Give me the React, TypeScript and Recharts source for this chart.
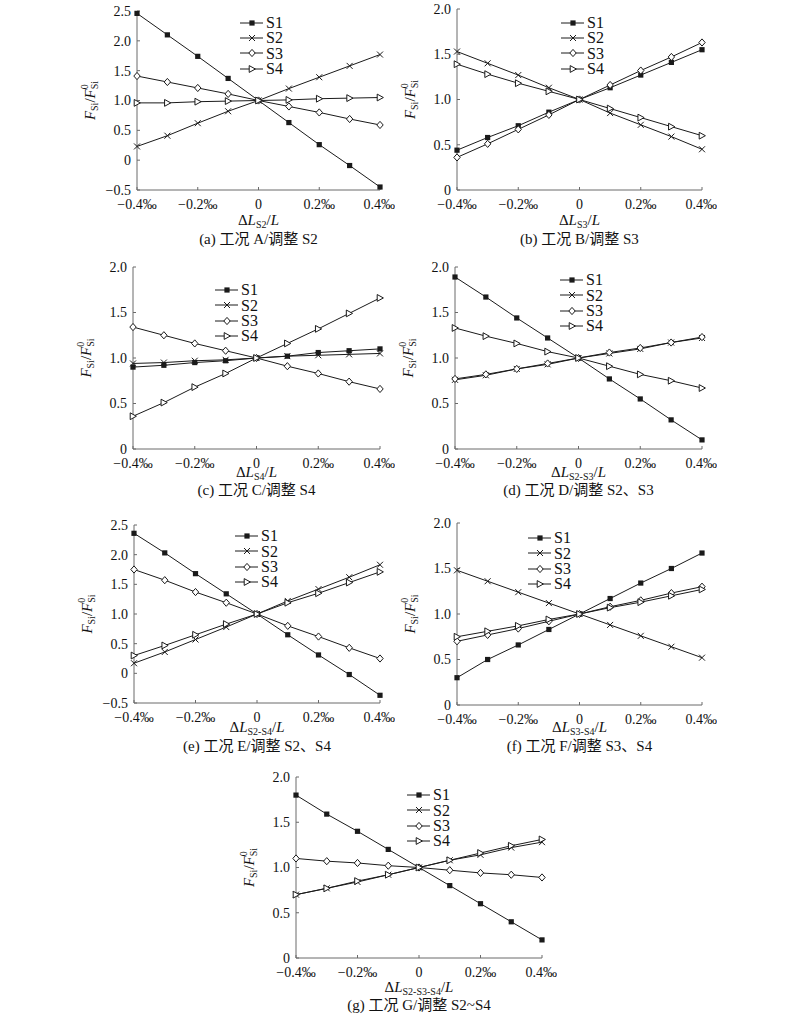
import React from "react";
import { LineChart, Line, XAxis, YAxis, Legend } from "recharts";

// x positions (‰ strain adjustment)
const X = [-0.4, -0.3, -0.2, -0.1, 0, 0.1, 0.2, 0.3, 0.4];
const X_TICKS = [-0.4, -0.2, 0, 0.2, 0.4];
const Y_TICKS_WIDE = [-0.5, 0, 0.5, 1, 1.5, 2, 2.5];
const Y_TICKS = [0, 0.5, 1, 1.5, 2];
const SERIES = ["S1", "S2", "S3", "S4"];

// (a) case A / adjust S2
const A_S1 = [2.46, 2.1, 1.74, 1.37, 1.0, 0.63, 0.26, -0.09, -0.45];
const A_S2 = [0.23, 0.41, 0.62, 0.82, 1.0, 1.2, 1.39, 1.58, 1.77];
const A_S3 = [1.41, 1.31, 1.21, 1.11, 1.0, 0.9, 0.8, 0.69, 0.59];
const A_S4 = [0.96, 0.96, 0.98, 0.99, 1.0, 1.01, 1.03, 1.04, 1.05];

// (b) case B / adjust S3
const B_S1 = [0.44, 0.58, 0.71, 0.86, 1.0, 1.13, 1.27, 1.41, 1.55];
const B_S2 = [1.53, 1.4, 1.27, 1.13, 1.0, 0.85, 0.72, 0.59, 0.45];
const B_S3 = [0.36, 0.51, 0.67, 0.83, 1.0, 1.16, 1.32, 1.47, 1.63];
const B_S4 = [1.39, 1.28, 1.18, 1.09, 1.0, 0.9, 0.8, 0.7, 0.6];

// (c) case C / adjust S4
const C_S1 = [0.9, 0.92, 0.95, 0.97, 1.0, 1.02, 1.06, 1.08, 1.1];
const C_S2 = [0.94, 0.95, 0.97, 0.98, 1.0, 1.02, 1.03, 1.04, 1.05];
const C_S3 = [1.34, 1.25, 1.16, 1.08, 1.0, 0.91, 0.83, 0.74, 0.66];
const C_S4 = [0.36, 0.51, 0.68, 0.83, 1.0, 1.16, 1.32, 1.49, 1.66];

// (d) case D / adjust S2, S3
const D_S1 = [1.89, 1.67, 1.44, 1.22, 1.0, 0.77, 0.55, 0.32, 0.1];
const D_S2 = [0.76, 0.81, 0.88, 0.93, 1.0, 1.05, 1.1, 1.17, 1.22];
const D_S3 = [0.77, 0.82, 0.88, 0.94, 1.0, 1.06, 1.11, 1.17, 1.23];
const D_S4 = [1.33, 1.24, 1.16, 1.07, 1.0, 0.91, 0.82, 0.75, 0.67];

// (e) case E / adjust S2, S4
const E_S1 = [2.36, 2.03, 1.68, 1.34, 1.0, 0.65, 0.31, -0.02, -0.37];
const E_S2 = [0.17, 0.36, 0.57, 0.78, 1.0, 1.22, 1.42, 1.62, 1.83];
const E_S3 = [1.75, 1.57, 1.37, 1.19, 1.0, 0.8, 0.62, 0.43, 0.25];
const E_S4 = [0.3, 0.47, 0.65, 0.83, 1.0, 1.19, 1.35, 1.53, 1.71];

// (f) case F / adjust S3, S4
const F_S1 = [0.3, 0.5, 0.66, 0.83, 1.0, 1.17, 1.34, 1.5, 1.67];
const F_S2 = [1.48, 1.36, 1.24, 1.12, 1.0, 0.88, 0.76, 0.64, 0.52];
const F_S3 = [0.7, 0.77, 0.84, 0.92, 1.0, 1.08, 1.15, 1.23, 1.3];
const F_S4 = [0.75, 0.81, 0.87, 0.94, 1.0, 1.07, 1.13, 1.2, 1.27];

// (g) case G / adjust S2~S4
const G_S1 = [1.8, 1.59, 1.4, 1.2, 1.0, 0.8, 0.6, 0.4, 0.2];
const G_S2 = [0.7, 0.77, 0.84, 0.92, 1.0, 1.08, 1.14, 1.22, 1.28];
const G_S3 = [1.1, 1.07, 1.05, 1.02, 1.0, 0.97, 0.94, 0.92, 0.89];
const G_S4 = [0.7, 0.77, 0.85, 0.92, 1.0, 1.08, 1.16, 1.24, 1.31];

const FONT = '"Liberation Serif", "Times New Roman", "Noto Sans CJK SC", serif';
const INK = "#1a1a1a";
const AXIS = "#6a6a6a";

function build(s1: number[], s2: number[], s3: number[], s4: number[]) {
  return X.map((x, i) => ({ x, S1: s1[i], S2: s2[i], S3: s3[i], S4: s4[i] }));
}

function Marker({ kind, cx, cy }: { kind: string; cx: number; cy: number }) {
  if (cx == null || cy == null) return null;
  if (kind === "S1")
    return <rect x={cx - 2.6} y={cy - 2.6} width={5.2} height={5.2} fill={INK} />;
  if (kind === "S2")
    return (
      <g stroke={INK} strokeWidth={1}>
        <line x1={cx - 3} y1={cy - 3} x2={cx + 3} y2={cy + 3} />
        <line x1={cx - 3} y1={cy + 3} x2={cx + 3} y2={cy - 3} />
      </g>
    );
  if (kind === "S3")
    return (
      <polygon
        points={`${cx},${cy - 3.6} ${cx + 3.2},${cy} ${cx},${cy + 3.6} ${cx - 3.2},${cy}`}
        fill="#fff"
        stroke={INK}
        strokeWidth={1}
      />
    );
  return (
    <polygon
      points={`${cx - 2.8},${cy - 3.4} ${cx + 3.4},${cy} ${cx - 2.8},${cy + 3.4}`}
      fill="#fff"
      stroke={INK}
      strokeWidth={1}
    />
  );
}

function fmtX(v: number) {
  if (v === 0) return "0";
  const s = Math.abs(v).toFixed(1) + "‰";
  return v < 0 ? "\u2212" + s : s;
}

function fmtY(v: number) {
  if (v === 0) return "0";
  const s = Math.abs(v).toFixed(1);
  return v < 0 ? "\u2212" + s : s;
}

function LegendBox() {
  return (
    <div style={{ fontFamily: FONT, fontSize: 16, color: "#111", lineHeight: "15.3px" }}>
      {SERIES.map((k) => (
        <div key={k} style={{ display: "flex", alignItems: "center", height: 15.3 }}>
          <svg width={24} height={12} style={{ display: "block" }}>
            <line x1={0} y1={6} x2={23} y2={6} stroke={INK} strokeWidth={1} />
            <Marker kind={k} cx={12} cy={6} />
          </svg>
          <span style={{ marginLeft: 2 }}>{k}</span>
        </div>
      ))}
    </div>
  );
}

type PanelProps = {
  data: { x: number; S1: number; S2: number; S3: number; S4: number }[];
  px: number;
  py: number;
  pw: number;
  ph: number;
  wide: boolean;
  legendX: number;
  legendY: number;
  xSub: string;
  xLabelY: number;
  caption: string;
  captionY: number;
};

function Panel(p: PanelProps) {
  const left = p.px - 60;
  const top = p.py - 10;
  const width = p.pw + 75;
  const height = p.ph + 35;
  const yTicks = p.wide ? Y_TICKS_WIDE : Y_TICKS;
  const cx = p.px + p.pw / 2;
  const yMid = p.py + p.ph / 2;
  const yx = p.px - 47;
  return (
    <>
      <div style={{ position: "absolute", left, top, width, height }}>
        <LineChart
          width={width}
          height={height}
          data={p.data}
          margin={{ top: 10, right: 15, bottom: 5, left: 0 }}
        >
          <XAxis
            dataKey="x"
            type="number"
            domain={[-0.4, 0.4]}
            ticks={X_TICKS}
            tickFormatter={fmtX}
            height={20}
            tickSize={-3}
            tickMargin={12}
            stroke={AXIS}
            tick={{ fill: "#111", fontSize: 14, fontFamily: FONT }}
          />
          <YAxis
            type="number"
            domain={[yTicks[0], yTicks[yTicks.length - 1]]}
            ticks={yTicks}
            tickFormatter={fmtY}
            width={60}
            tickSize={-3}
            tickMargin={9}
            stroke={AXIS}
            interval={0}
            tick={{ fill: "#111", fontSize: 14, fontFamily: FONT }}
          />
          {SERIES.map((k) => (
            <Line
              key={k}
              dataKey={k}
              stroke={INK}
              strokeWidth={1}
              isAnimationActive={false}
              dot={(d: any) => <Marker key={`${k}-${d.index}`} kind={k} cx={d.cx} cy={d.cy} />}
              activeDot={false}
            />
          ))}
          <Legend
            layout="vertical"
            align="center"
            verticalAlign="middle"
            content={() => <LegendBox />}
            wrapperStyle={{ left: p.legendX - left, top: p.legendY - 7.6 - top, width: 60 }}
          />
        </LineChart>
      </div>
      <svg
        style={{ position: "absolute", left: 0, top: 0, pointerEvents: "none" }}
        width={800}
        height={1015}
      >
        <text
          x={yx}
          y={yMid}
          transform={`rotate(-90, ${yx}, ${yMid})`}
          textAnchor="middle"
          dominantBaseline="central"
          fontFamily={FONT}
          fontSize={15}
          fill="#111"
        >
          <tspan fontStyle="italic">F</tspan>
          <tspan fontSize={10} dy={4}>Si</tspan>
          <tspan dy={-4}>/</tspan>
          <tspan fontStyle="italic">F</tspan>
          <tspan fontSize={10} dy={-6}>0</tspan>
          <tspan fontSize={10} dx={-5} dy={10}>Si</tspan>
        </text>
        <text
          x={cx}
          y={p.xLabelY}
          textAnchor="middle"
          dominantBaseline="central"
          fontFamily={FONT}
          fontSize={15}
          fill="#111"
        >
          <tspan>Δ</tspan>
          <tspan fontStyle="italic">L</tspan>
          <tspan fontSize={10} dy={4}>{p.xSub}</tspan>
          <tspan dy={-4}>/</tspan>
          <tspan fontStyle="italic">L</tspan>
        </text>
        <text
          x={cx}
          y={p.captionY}
          textAnchor="middle"
          dominantBaseline="central"
          fontFamily={FONT}
          fontSize={15}
          fill="#111"
        >
          {p.caption}
        </text>
      </svg>
    </>
  );
}

export default function App() {
  return (
    <div
      style={{
        position: "absolute",
        left: 0,
        top: 0,
        width: 800,
        height: 1015,
        background: "#fff",
        overflow: "hidden",
      }}
    >
      <Panel data={build(A_S1, A_S2, A_S3, A_S4)} px={137} py={11} pw={243} ph={179} wide
        legendX={240} legendY={22.7} xSub="S2" xLabelY={220} caption="(a) 工况 A/调整 S2" captionY={239} />
      <Panel data={build(B_S1, B_S2, B_S3, B_S4)} px={457} py={9} pw={245} ph={181} wide={false}
        legendX={561} legendY={22.7} xSub="S3" xLabelY={220} caption="(b) 工况 B/调整 S3" captionY={239} />
      <Panel data={build(C_S1, C_S2, C_S3, C_S4)} px={133} py={267} pw={247} ph={182} wide={false}
        legendX={215} legendY={290} xSub="S4" xLabelY={472} caption="(c) 工况 C/调整 S4" captionY={490} />
      <Panel data={build(D_S1, D_S2, D_S3, D_S4)} px={455} py={267} pw={247} ph={182} wide={false}
        legendX={560} legendY={280} xSub="S2-S3" xLabelY={472} caption="(d) 工况 D/调整 S2、S3" captionY={490} />
      <Panel data={build(E_S1, E_S2, E_S3, E_S4)} px={134} py={525} pw={246} ph={178} wide
        legendX={235} legendY={536} xSub="S2-S4" xLabelY={727} caption="(e) 工况 E/调整 S2、S4" captionY={746} />
      <Panel data={build(F_S1, F_S2, F_S3, F_S4)} px={457} py={523} pw={245} ph={182} wide={false}
        legendX={528} legendY={538} xSub="S3-S4" xLabelY={727} caption="(f) 工况 F/调整 S3、S4" captionY={746} />
      <Panel data={build(G_S1, G_S2, G_S3, G_S4)} px={296} py={777} pw={246} ph={181} wide={false}
        legendX={407} legendY={795} xSub="S2-S3-S4" xLabelY={987} caption="(g) 工况 G/调整 S2~S4" captionY={1005} />
    </div>
  );
}
